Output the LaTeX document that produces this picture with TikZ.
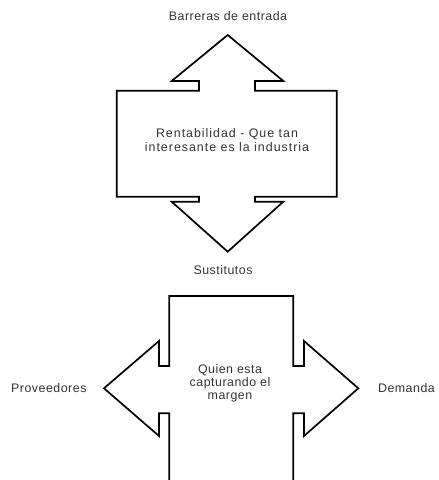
\documentclass[tikz,border=0pt]{standalone}
\usepackage{fontspec}
\setmainfont{Liberation Sans}[LetterSpace=4]
\begin{document}
\begin{tikzpicture}[x=1pt,y=-1pt,
  shapeline/.style={draw=black,line width=1.7pt,line join=miter},
  lbl/.style={inner sep=0pt,font=\fontsize{12.4}{13.2}\selectfont,text=black!80,align=center}]
\useasboundingbox[fill=white] (0,0) rectangle (439,480);
% top double arrow
\draw[shapeline] (227.7,35) -- (283.3,81) -- (255,81) -- (255,90.7) -- (336.7,90.7) -- (336.7,196.7)
  -- (255,196.7) -- (255,201.7) -- (283.3,201.7) -- (227.7,251.7) -- (171.7,201.7) -- (199,201.7)
  -- (199,196.7) -- (116.7,196.7) -- (116.7,90.7) -- (199,90.7) -- (199,81) -- (171.7,81) -- cycle;
% bottom shape
\draw[shapeline] (169.3,481) -- (169.3,413.3) -- (159,413.3) -- (159,436) -- (104,388.3) -- (159,341)
  -- (159,366) -- (169.3,366) -- (169.3,296) -- (293.3,296) -- (293.3,366) -- (304,366) -- (304,341)
  -- (358.3,388.3) -- (304,436) -- (304,413.3) -- (293.3,413.3) -- (293.3,481);
% labels
\node[lbl] (barreras) at (228,16) {Barreras de entrada};
\node[lbl,font=\fontsize{12.4}{13.8}\selectfont\addfontfeatures{LetterSpace=8}] (rent) at (227,140) {Rentabilidad - Que tan\\interesante es la industria};
\node[lbl] (sust) at (223,270) {Sustitutos};
\node[lbl] (quien) at (230,383) {Quien esta\\capturando el\\margen};
\node[lbl,anchor=west] (prov) at (11,388) {Proveedores};
\node[lbl,anchor=east] (dem) at (435,388) {Demanda};
\end{tikzpicture}
\end{document}
